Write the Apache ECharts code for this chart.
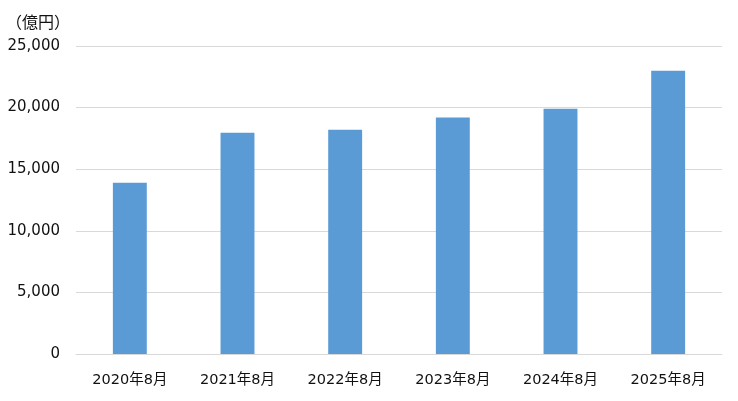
<!DOCTYPE html>
<html><head><meta charset="utf-8">
<script src="https://cdn.jsdelivr.net/npm/echarts@6/dist/echarts.min.js"></script>
<style>html,body{margin:0;padding:0;background:#fff}#c{width:738px;height:401px}</style>
</head><body><div id="c"></div>
<script>
const categories = ['2020年8月','2021年8月','2022年8月','2023年8月','2024年8月','2025年8月'];
const values = [13900, 17950, 18200, 19200, 19900, 23000];
const unitLabel = '（億円）';

const chart = echarts.init(document.getElementById('c'));
chart.setOption({
  animation: false,
  title: {
    text: unitLabel, left: 1, top: 9,
    textStyle: {fontFamily: '"Noto Sans CJK JP", "DejaVu Sans"', fontSize: 16, fontWeight: 'normal', color: '#111'}
  },
  grid: {left: 76, right: 16, top: 46, bottom: 47},
  xAxis: {
    type: 'category', data: categories,
    axisLine: {show: true, lineStyle: {color: '#d9d9d9'}},
    axisTick: {show: false},
    axisLabel: {color: '#111', fontSize: 14.5, fontFamily: '"DejaVu Sans", "Noto Sans CJK JP"', margin: 19}
  },
  yAxis: {
    type: 'value', min: 0, max: 25000, interval: 5000,
    axisLine: {show: false}, axisTick: {show: false},
    splitLine: {lineStyle: {color: '#d9d9d9'}},
    axisLabel: {color: '#111', fontSize: 15, fontFamily: '"DejaVu Sans"', margin: 16,
      formatter: v => v.toLocaleString('en-US')}
  },
  series: [{
    type: 'bar', data: values, barWidth: '31.5%',
    itemStyle: {color: '#5b9bd5'}
  }]
});
</script></body></html>
